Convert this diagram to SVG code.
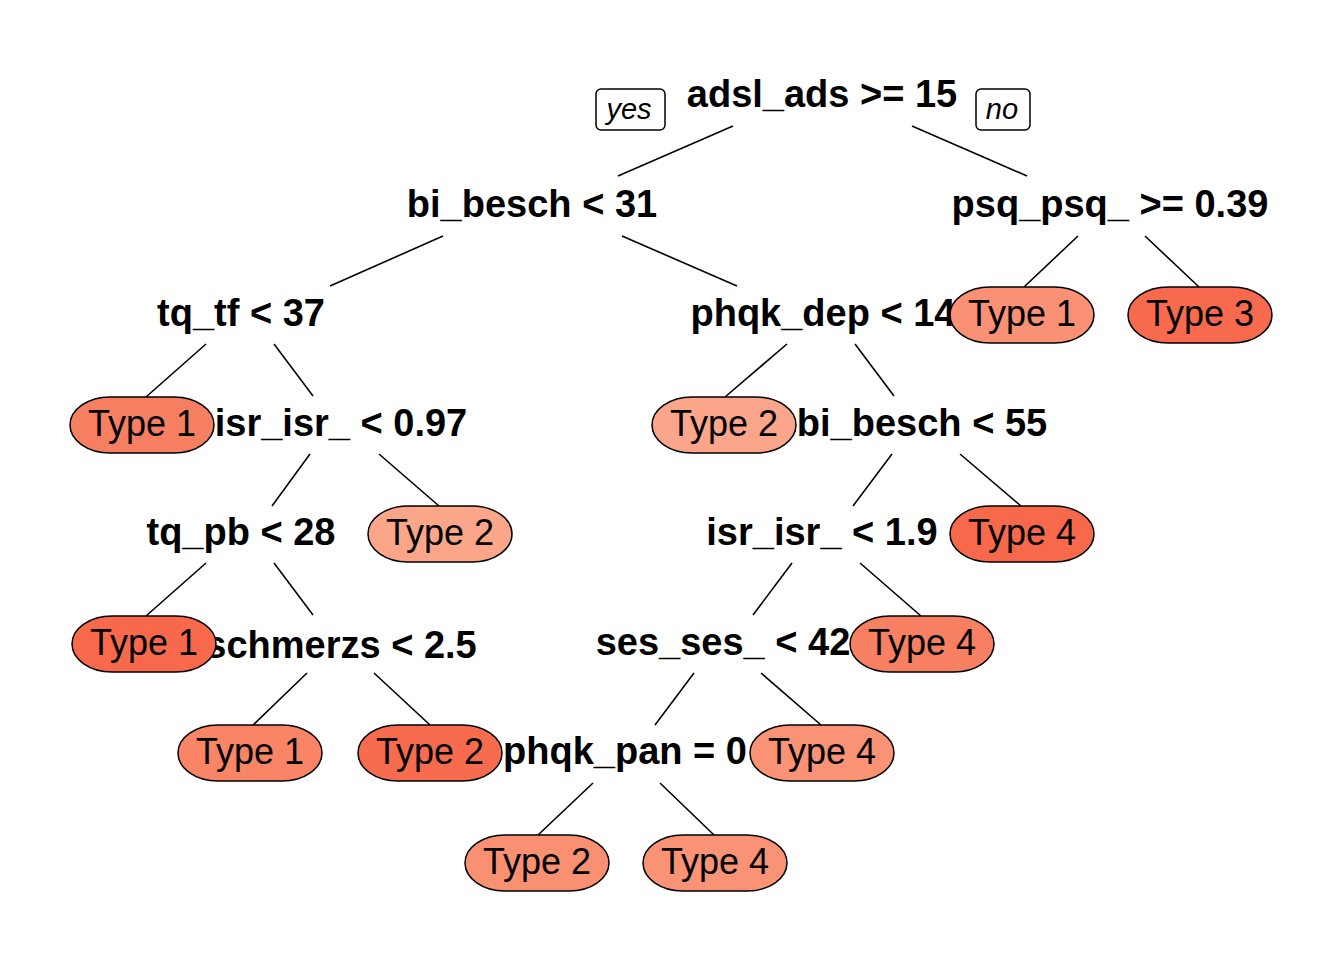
<svg xmlns="http://www.w3.org/2000/svg" width="1344" height="960" viewBox="0 0 1344 960">
<style>
.split{font-family:"Liberation Sans",Arial,sans-serif;font-weight:bold;font-size:38px;fill:#000;text-anchor:middle}
.leaf text{font-family:"Liberation Sans",Arial,sans-serif;font-size:36px;fill:#000;text-anchor:middle}
.pill{stroke:#000;stroke-width:1.5}
.lab{font-family:"Liberation Sans",Arial,sans-serif;font-style:italic;font-size:29px;fill:#000;text-anchor:middle}
.box{fill:#fff;stroke:#000;stroke-width:1.5}
#edges line{stroke:#000;stroke-width:1.6}
</style>
<rect width="1344" height="960" fill="#fff"/>
<g id="edges">
<line x1="733" y1="126" x2="618" y2="176"/>
<line x1="912" y1="126" x2="1027" y2="176"/>
<line x1="443" y1="236" x2="330" y2="286"/>
<line x1="622" y1="236" x2="737" y2="286"/>
<line x1="1078" y1="236" x2="1024" y2="287"/>
<line x1="1145" y1="236" x2="1199" y2="287"/>
<line x1="206" y1="344" x2="146" y2="397"/>
<line x1="274" y1="344" x2="313" y2="396"/>
<line x1="787" y1="344" x2="725" y2="397"/>
<line x1="855" y1="344" x2="894" y2="396"/>
<line x1="310" y1="454" x2="272" y2="506"/>
<line x1="379" y1="454" x2="439" y2="506"/>
<line x1="892" y1="454" x2="853" y2="506"/>
<line x1="960" y1="454" x2="1021" y2="506"/>
<line x1="206" y1="563" x2="146" y2="616"/>
<line x1="274" y1="563" x2="313" y2="615"/>
<line x1="792" y1="563" x2="753" y2="615"/>
<line x1="860" y1="563" x2="921" y2="616"/>
<line x1="307" y1="673" x2="253" y2="725"/>
<line x1="374" y1="673" x2="430" y2="725"/>
<line x1="694" y1="673" x2="655" y2="725"/>
<line x1="761" y1="673" x2="821" y2="725"/>
<line x1="593" y1="783" x2="538" y2="835"/>
<line x1="660" y1="783" x2="714" y2="835"/>
</g>
<g id="yesno">
<rect class="box" x="596" y="89" width="69" height="41" rx="5"/>
<text class="lab" x="629" y="119">yes</text>
<rect class="box" x="976" y="89" width="54" height="41" rx="5"/>
<text class="lab" x="1002" y="119">no</text>
</g>
<g id="n1"><text class="split" x="822" y="107">adsl_ads &gt;= 15</text></g>
<g id="n2"><text class="split" x="532" y="217">bi_besch &lt; 31</text></g>
<g id="n3"><text class="split" x="1110" y="217">psq_psq_ &gt;= 0.39</text></g>
<g id="n4"><text class="split" x="241" y="326">tq_tf &lt; 37</text></g>
<g id="n5"><text class="split" x="823" y="326">phqk_dep &lt; 14</text></g>
<g id="n9"><text class="split" x="341" y="436">isr_isr_ &lt; 0.97</text></g>
<g id="n11"><text class="split" x="922" y="436">bi_besch &lt; 55</text></g>
<g id="n18"><text class="split" x="241" y="545">tq_pb &lt; 28</text></g>
<g id="n22"><text class="split" x="822" y="545">isr_isr_ &lt; 1.9</text></g>
<g id="n37"><text class="split" x="341" y="658">schmerzs &lt; 2.5</text></g>
<g id="n44"><text class="split" x="723" y="655">ses_ses_ &lt; 42</text></g>
<g id="n88"><text class="split" x="625" y="764">phqk_pan = 0</text></g>

<g id="leaf6" class="leaf"><rect class="pill" x="950" y="287" width="144" height="56" rx="40" ry="28" fill="#FA9174"/><text x="1022" y="326">Type 1</text></g>
<g id="leaf7" class="leaf"><rect class="pill" x="1128" y="287" width="144" height="56" rx="40" ry="28" fill="#F86A4E"/><text x="1200" y="326">Type 3</text></g>
<g id="leaf8" class="leaf"><rect class="pill" x="70" y="397" width="144" height="56" rx="40" ry="28" fill="#F77F61"/><text x="142" y="436">Type 1</text></g>
<g id="leaf10" class="leaf"><rect class="pill" x="652" y="397" width="144" height="56" rx="40" ry="28" fill="#FBA68A"/><text x="724" y="436">Type 2</text></g>
<g id="leaf19" class="leaf"><rect class="pill" x="368" y="506" width="144" height="56" rx="40" ry="28" fill="#FBA689"/><text x="440" y="545">Type 2</text></g>
<g id="leaf23" class="leaf"><rect class="pill" x="950" y="506" width="144" height="56" rx="40" ry="28" fill="#F8694C"/><text x="1022" y="545">Type 4</text></g>
<g id="leaf36" class="leaf"><rect class="pill" x="72" y="616" width="144" height="56" rx="40" ry="28" fill="#F8694C"/><text x="144" y="655">Type 1</text></g>
<g id="leaf45" class="leaf"><rect class="pill" x="850" y="616" width="144" height="56" rx="40" ry="28" fill="#F88062"/><text x="922" y="655">Type 4</text></g>
<g id="leaf74" class="leaf"><rect class="pill" x="178" y="725" width="144" height="56" rx="40" ry="28" fill="#F98466"/><text x="250" y="764">Type 1</text></g>
<g id="leaf75" class="leaf"><rect class="pill" x="358" y="725" width="144" height="56" rx="40" ry="28" fill="#F76B4E"/><text x="430" y="764">Type 2</text></g>
<g id="leaf89" class="leaf"><rect class="pill" x="750" y="725" width="144" height="56" rx="40" ry="28" fill="#FA9275"/><text x="822" y="764">Type 4</text></g>
<g id="leaf176" class="leaf"><rect class="pill" x="465" y="835" width="144" height="56" rx="40" ry="28" fill="#FA9072"/><text x="537" y="874">Type 2</text></g>
<g id="leaf177" class="leaf"><rect class="pill" x="643" y="835" width="144" height="56" rx="40" ry="28" fill="#FA9376"/><text x="715" y="874">Type 4</text></g>
</svg>
